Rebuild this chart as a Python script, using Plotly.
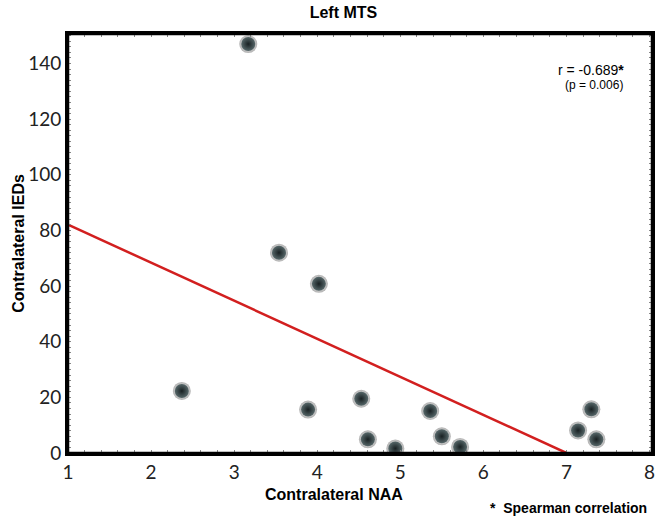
import plotly.graph_objects as go

naa = [3.17, 3.54, 4.02, 2.37, 3.89, 4.53, 4.61, 4.94, 5.36, 5.50, 5.72, 7.14, 7.30, 7.36]
ieds = [147, 72, 60.8, 22.3, 15.6, 19.5, 4.9, 1.6, 15.1, 6.0, 2.2, 8.1, 15.7, 4.9]
fit_x = [1.0, 7.0]
fit_y = [82.1, 0.0]

fig = go.Figure()
fig.add_trace(go.Scatter(x=fit_x, y=fit_y, mode="lines",
                         line=dict(color="#d21f1f", width=2.5), hoverinfo="skip"))
# soft shadow
fig.add_trace(go.Scatter(x=naa, y=ieds, mode="markers",
                         marker=dict(size=18, color="rgba(0,0,0,0.30)",
                                     gradient=dict(type="radial", color="rgba(0,0,0,0)"),
                                     line=dict(width=0)),
                         hoverinfo="skip"))
fig.add_trace(go.Scatter(x=naa, y=ieds, mode="markers",
                         marker=dict(size=14, color="#566769",
                                     gradient=dict(type="radial", color="#182022"),
                                     line=dict(width=0))))

axis_common = dict(showline=True, linecolor="black", mirror="allticks", showgrid=False,
                   zeroline=False, ticks="", automargin=False,
                   tickfont=dict(family="Lato", size=19, color="#222"))
fig.update_xaxes(range=[1, 8.03], tickvals=[1, 2, 3, 4, 5, 6, 7, 8], linewidth=3,
                 minor=dict(ticks="inside", ticklen=3, tickcolor="#888", dtick=0.2),
                 **axis_common)
fig.update_yaxes(range=[0, 150.6], tickvals=[0, 20, 40, 60, 80, 100, 120, 140], linewidth=3,
                 minor=dict(ticks="inside", ticklen=3, tickcolor="#888", dtick=2),
                 **axis_common)

fig.update_layout(
    width=658, height=524, showlegend=False,
    plot_bgcolor="white", paper_bgcolor="white",
    margin=dict(l=68, r=6, t=34, b=71, autoexpand=False),
    shapes=[dict(type="rect", xref="paper", yref="paper", x0=0, x1=1, y0=0, y1=1,
                 line=dict(color="black", width=2.5), layer="above")],
    title=dict(text="<b>Left MTS</b>", x=0.522, xanchor="center", y=0.977, yanchor="middle",
               font=dict(family="Liberation Sans", size=16, color="black")),
    annotations=[
        dict(text="<b>Contralateral NAA</b>", xref="paper", yref="paper", x=0.455, y=-0.10,
             showarrow=False, font=dict(family="Liberation Sans", size=16, color="black"),
             xanchor="center", yanchor="middle"),
        dict(text="<b>Contralateral IEDs</b>", xref="paper", yref="paper", x=-0.085, y=0.5,
             textangle=-90, showarrow=False,
             font=dict(family="Liberation Sans", size=16, color="black"),
             xanchor="center", yanchor="middle"),
        dict(text="r = -0.689<b>*</b>", xref="paper", yref="paper", x=0.955, y=0.915,
             showarrow=False, font=dict(family="Liberation Sans", size=14, color="black"),
             xanchor="right", yanchor="middle"),
        dict(text="(p = 0.006)", xref="paper", yref="paper", x=0.953, y=0.878,
             showarrow=False, font=dict(family="Liberation Sans", size=12, color="black"),
             xanchor="right", yanchor="middle"),
        dict(text="<b>*  Spearman correlation</b>", xref="paper", yref="paper", x=0.995, y=-0.131,
             showarrow=False, font=dict(family="Liberation Sans", size=14, color="black"),
             xanchor="right", yanchor="middle"),
    ],
)

fig.write_html("out.html", config={"displayModeBar": False},
               post_script="document.body.style.margin='0';document.body.style.overflow='hidden';")
